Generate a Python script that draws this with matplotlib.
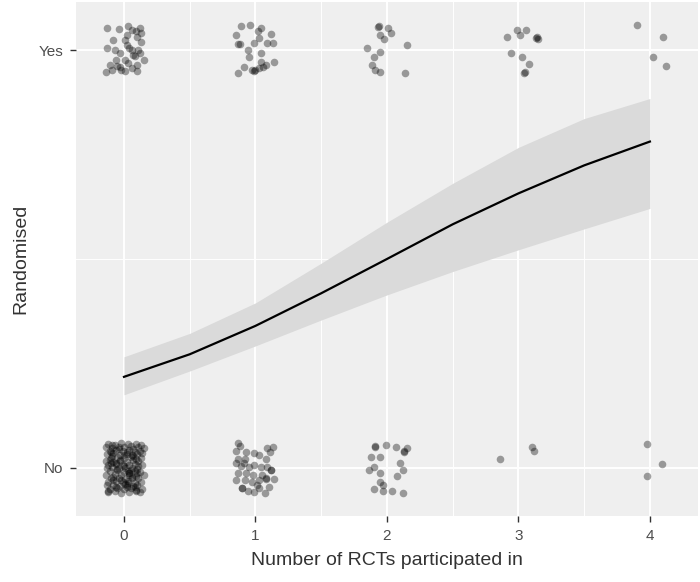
import numpy as np
import matplotlib.pyplot as plt

plt.rcParams['font.family'] = ['Liberation Sans', 'DejaVu Sans']

# jittered observations: (rcts, randomised) ; Yes = 1, No = 0
yes_x = [-0.13, -0.04, 0.03, 0.06, 0.12, 0.13, 0.02, -0.08, 0.01, 0.10, 0.13, -0.13, -0.07,
         -0.03, 0.02, 0.06, 0.11, 0.07, 0.15, -0.06, 0.01, -0.11, -0.03, 0.03, 0.10, -0.14,
         -0.09, -0.02, 0.01, 0.06, 0.10, 0.12, 0.08, -0.05, 0.04, 0.09,
         0.89, 0.96, 1.04, 1.02, 0.85, 1.12, 1.03, 0.87, 0.99, 1.09, 1.13, 0.94, 0.95, 1.04,
         1.04, 1.14, 1.08, 0.91, 0.87, 0.97, 1.00, 1.03, 1.06, 0.88, 0.99,
         1.93, 1.94, 2.01, 2.03, 1.95, 1.98, 2.15, 1.85, 1.95, 1.90, 1.89, 1.91, 1.95, 2.14,
         2.91, 2.99, 3.01, 3.06, 3.13, 3.14, 3.15, 2.94, 3.03, 3.08, 3.04, 3.05,
         3.90, 4.10, 4.02, 4.12]
yes_y = [1.052, 1.050, 1.057, 1.048, 1.052, 1.041, 1.036, 1.024, 1.024, 1.032, 1.020, 1.006, 1.000,
         0.992, 1.012, 1.000, 1.000, 0.988, 0.976, 0.976, 0.976, 0.964, 0.960, 0.968, 0.964, 0.948,
         0.952, 0.952, 0.951, 0.957, 0.951, 0.992, 0.985, 0.962, 1.005, 1.045,
         1.057, 1.060, 1.052, 1.046, 1.036, 1.038, 1.028, 1.014, 1.017, 1.016, 1.016, 1.000, 0.984, 0.992,
         0.972, 0.972, 0.964, 0.960, 0.946, 0.952, 0.952, 0.957, 0.960, 1.014, 0.950,
         1.055, 1.057, 1.052, 1.041, 1.036, 1.026, 1.012, 1.004, 0.996, 0.984, 0.964, 0.952, 0.948, 0.945,
         1.032, 1.048, 1.036, 1.048, 1.030, 1.031, 1.026, 0.994, 0.983, 0.967, 0.946, 0.947,
         1.060, 1.032, 0.983, 0.962]

no_x = [-0.12, -0.07, -0.02, 0.03, 0.09, 0.13, -0.14, -0.09, -0.04, 0.00, 0.05, 0.11, 0.15,
        -0.11, -0.06, -0.01, 0.04, 0.08, 0.12, -0.13, -0.08, -0.03, 0.02, 0.06, 0.10, 0.14,
        -0.10, -0.05, 0.00, 0.05, 0.09, 0.13, -0.14, -0.08, -0.03, 0.02, 0.07, 0.11,
        -0.12, -0.06, -0.01, 0.04, 0.08, 0.14, -0.13, -0.09, -0.04, 0.01, 0.06, 0.10,
        -0.11, -0.05, 0.00, 0.03, 0.08, 0.12, -0.14, -0.07, -0.02, 0.04, 0.09, 0.15,
        -0.10, -0.04, 0.01, 0.06, 0.11, -0.12, -0.06, -0.01, 0.03, 0.08, 0.13,
        -0.13, -0.08, -0.03, 0.02, 0.07, 0.10, -0.11, -0.05, 0.00, 0.05, 0.09, 0.14,
        -0.12, -0.07, -0.02, 0.04, 0.12, -0.10, -0.05, 0.04, 0.00, -0.08, 0.07,
        -0.09, -0.04, 0.02, 0.07, -0.11, -0.06, 0.00, 0.05, 0.10, -0.08, -0.02, 0.03,
        0.08, -0.12, -0.06, 0.01, 0.06, 0.11, -0.09, -0.03, 0.04, -0.10, 0.02, 0.09,
        0.87, 0.88, 0.85, 0.93, 0.99, 1.03, 1.09, 1.13, 1.11, 0.87, 0.92, 1.08, 0.85, 0.89,
        0.95, 0.99, 1.04, 1.09, 1.12, 1.12, 0.87, 0.93, 0.98, 1.05, 0.85, 0.92, 0.97, 1.03,
        1.08, 1.08, 1.14, 0.90, 0.90, 0.94, 0.99, 1.03, 1.07, 1.10, 0.91, 1.01,
        1.91, 1.91, 1.99, 2.07, 2.13, 2.13, 2.15, 1.88, 1.95, 1.90, 1.86, 2.10, 2.12, 1.95,
        2.08, 1.95, 1.97, 1.90, 1.97, 2.04, 2.12,
        2.86, 3.10, 3.12,
        3.98, 4.09, 3.98]
no_y = [0.058, 0.056, 0.059, 0.057, 0.058, 0.055, 0.050, 0.048, 0.051, 0.049, 0.052, 0.050, 0.047,
        0.041, 0.043, 0.040, 0.042, 0.039, 0.041, 0.033, 0.035, 0.032, 0.034, 0.031, 0.033, 0.035,
        0.024, 0.026, 0.023, 0.025, 0.022, 0.024, 0.016, 0.014, 0.017, 0.015, 0.018, 0.016,
        0.008, 0.009, 0.006, 0.008, 0.010, 0.007, 0.000, 0.002, -0.001, 0.001, 0.000, -0.002,
        -0.008, -0.006, -0.009, -0.007, -0.008, -0.010, -0.017, -0.015, -0.018, -0.016, -0.019, -0.017,
        -0.025, -0.023, -0.026, -0.024, -0.025, -0.033, -0.031, -0.034, -0.032, -0.035, -0.033,
        -0.042, -0.040, -0.043, -0.041, -0.044, -0.042, -0.050, -0.048, -0.051, -0.049, -0.052, -0.050,
        -0.058, -0.056, -0.059, -0.057, -0.058, 0.012, -0.003, -0.012, 0.030, -0.030, 0.045,
        0.054, 0.045, 0.037, 0.028, 0.020, 0.012, 0.004, -0.004, -0.012, -0.021, -0.029, -0.037,
        -0.045, -0.054, -0.046, -0.038, -0.021, 0.005, 0.029, 0.019, -0.013, 0.037, -0.046, -0.054,
        0.059, 0.053, 0.041, 0.039, 0.035, 0.031, 0.047, 0.051, 0.039, 0.021, 0.021, 0.021, 0.011, 0.005,
        0.003, 0.007, 0.003, 0.003, -0.006, -0.004, -0.013, -0.013, -0.017, -0.017, -0.030, -0.029, -0.033, -0.029,
        -0.027, -0.025, -0.027, -0.049, -0.047, -0.054, -0.057, -0.049, -0.059, -0.045, 0.012, -0.040,
        0.050, 0.052, 0.055, 0.051, 0.039, 0.041, 0.047, 0.027, 0.026, 0.003, -0.005, 0.011, -0.006, -0.013,
        -0.019, -0.033, -0.041, -0.051, -0.055, -0.055, -0.059,
        0.021, 0.051, 0.041,
        0.057, 0.010, -0.019]

# fitted logistic curve with confidence band
fit_x = [0, 0.5, 1, 1.5, 2, 2.5, 3, 3.5, 4]
fit_y = [0.218, 0.272, 0.340, 0.418, 0.500, 0.583, 0.657, 0.724, 0.781]
fit_lo = [0.175, 0.232, 0.292, 0.354, 0.414, 0.470, 0.522, 0.572, 0.621]
fit_hi = [0.266, 0.322, 0.395, 0.490, 0.588, 0.681, 0.767, 0.836, 0.884]

fig = plt.figure(figsize=(7, 5.82), dpi=100)
ax = fig.add_axes([0.1086, 0.1134, 0.8884, 0.8832])
ax.set_facecolor('#efefef')

# grid
for v in [0.5, 1.5, 2.5, 3.5]:
    ax.axvline(v, color='white', lw=0.7, zorder=0)
ax.axhline(0.5, color='white', lw=0.7, zorder=0)
for v in [0, 1, 2, 3, 4]:
    ax.axvline(v, color='white', lw=1.4, zorder=0)
for v in [0, 1]:
    ax.axhline(v, color='white', lw=1.4, zorder=0)

ax.fill_between(fit_x, fit_lo, fit_hi, color='#dadada', lw=0, zorder=1)
ax.plot(fit_x, fit_y, color='black', lw=1.6, zorder=3)

ax.scatter(yes_x, yes_y, s=30, color='black', alpha=0.36, lw=0, zorder=2)
ax.scatter(no_x, no_y, s=30, color='black', alpha=0.36, lw=0, zorder=2)

ax.set_xlim(-0.365, 4.365)
ax.set_ylim(-0.115, 1.115)
ax.set_xticks([0, 1, 2, 3, 4])
ax.set_yticks([0, 1])
ax.set_yticklabels(['No', 'Yes'])
ax.tick_params(colors='#333333', labelcolor='#4d4d4d', labelsize=11, length=4, width=1, pad=5)
for s in ax.spines.values():
    s.set_visible(False)

ax.set_xlabel('Number of RCTs participated in', fontsize=14, color='#333333', labelpad=7)
ax.set_ylabel('Randomised', fontsize=14, color='#333333', labelpad=7)

fig.savefig('out.png', dpi=100)
